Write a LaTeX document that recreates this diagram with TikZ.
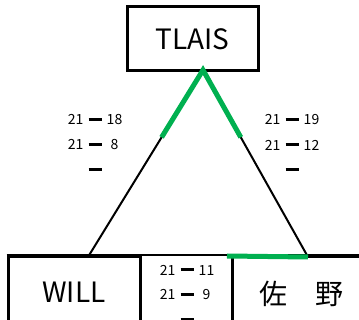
\documentclass[tikz,border=0pt]{standalone}
\usepackage{fontspec}
\setmainfont{Noto Sans CJK JP}
\usetikzlibrary{calc}
\definecolor{wingreen}{RGB}{0,176,80}
\tikzstyle{team} = [
    rectangle,
    draw=black,
    line width=3pt,
    inner sep=0pt,
    font=\fontsize{28}{30}\selectfont
]
\tikzstyle{score} = [
    inner sep=0pt,
    font=\fontsize{14}{16}\selectfont
]
\tikzstyle{edge} = [line width=2pt, draw=black]
\tikzstyle{win} = [line width=5pt, draw=wingreen, line join=miter]
\newcommand{\scdash}{\rule[0.28em]{13pt}{3pt}}
\newcommand{\setscore}[2]{\makebox[16pt][r]{#1}\hspace{5pt}\scdash\hspace{5pt}\makebox[16pt][c]{#2}}
\newcommand{\noscore}{\vphantom{0}\scdash}

\begin{document}
\begin{tikzpicture}[x=1pt,y=-1pt]
\useasboundingbox (0,0) rectangle (359,320);
\clip (0,0) rectangle (359,320);

\node (tlais) [team, minimum width=131pt, minimum height=64pt] at (192.5,39) {TLAIS};
\node (will) [team, minimum width=132pt, minimum height=80pt] at (74,297)
{\raisebox{9pt}{WILL}};
\node (sano) [team, minimum width=138pt, minimum height=80pt] at (301,297)
{\raisebox{9pt}{佐　野}};

\coordinate (apex) at (203,70);
\coordinate (lfoot) at (88,257);
\coordinate (rfoot) at (308,257);
\coordinate (gstart) at (227,256);

% base and sides
\draw [edge] (will.north west) -- (sano.north east);
\draw [edge] (apex) -- (lfoot);
\draw [edge] (apex) -- (rfoot);

% winners
\draw [win] ($(apex)!0.36!(lfoot)$) -- (apex) -- ($(apex)!0.36!(rfoot)$);
\draw [win] (gstart) -- (rfoot);

% TLAIS - WILL
\node (lw1) [score] at (95,120) {\setscore{21}{18}};
\node (lw2) [score] at (95,145) {\setscore{21}{8}};
\node (lw3) [score] at (95,170) {\noscore};

% TLAIS - sano
\node (rw1) [score] at (292,120) {\setscore{21}{19}};
\node (rw2) [score] at (292,145) {\setscore{21}{12}};
\node (rw3) [score] at (292,170) {\noscore};

% WILL - sano
\node (bw1) [score] at (187,270) {\setscore{21}{11}};
\node (bw2) [score] at (187,295) {\setscore{21}{9}};
\node (bw3) [score] at (187,320) {\noscore};

\end{tikzpicture}
\end{document}
